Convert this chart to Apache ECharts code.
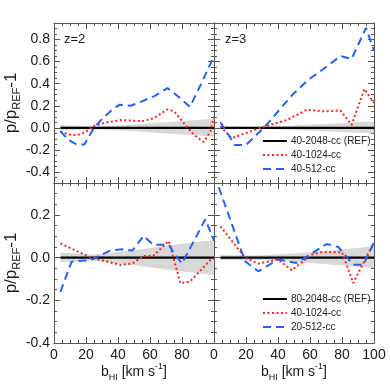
<!DOCTYPE html>
<html>
<head>
<meta charset="utf-8">
<script src="https://cdn.jsdelivr.net/npm/echarts@6/dist/echarts.min.js"></script>
<style>html,body{margin:0;padding:0;background:#fff}#c{width:390px;height:390px}</style>
</head>
<body>
<div id="c"></div>
<script>
// ---------------- data ----------------
const panelLabels = ['z=2', 'z=3', '', ''];
const legendTop = ['40-2048-cc (REF)', '40-1024-cc', '40-512-cc'];
const legendBottom = ['80-2048-cc (REF)', '40-1024-cc', '20-512-cc'];

const xMajor = [0, 20, 40, 60, 80, 100];
const xLabelsLeft = [0, 20, 40, 60, 80];
const xLabelsRight = [0, 20, 40, 60, 80, 100];
const yMajorTop = [-0.4, -0.2, 0.0, 0.2, 0.4, 0.6, 0.8];
const yMajorBottom = [-0.4, -0.2, 0.0, 0.2];

const refX = [4, 100];
const refY = [0, 0];

// z=2, top row
const z2Red = [[4,-0.035],[11,-0.066],[16,-0.06],[20,-0.036],[25,0.018],[33,0.05],[42,0.07],[55,0.06],[62,0.085],[71,0.167],[75,0.15],[83,0.01],[88,-0.07],[93.5,-0.127],[97.7,-0.036],[100,0.1]];
const z2Blue = [[4,-0.03],[9,-0.11],[14,-0.15],[19,-0.15],[25,0.0],[30,0.08],[36,0.16],[41,0.21],[48,0.20],[55,0.24],[63,0.29],[71,0.36],[78,0.28],[85,0.19],[92,0.40],[100,0.65]];
// z=3, top row
const z3Red = [[4,0.013],[11,-0.095],[29,0.0],[46,0.073],[58,0.164],[69,0.149],[79,0.158],[86,0.027],[94,0.352],[100,0.225]];
const z3Blue = [[4,0.05],[13,-0.155],[20,-0.155],[32,0.013],[49,0.30],[59,0.436],[69,0.54],[79,0.65],[86,0.625],[95,0.906],[100,0.70]];
// z=2, bottom row
const z2bRed = [[4,0.067],[23,0.0],[31,-0.014],[41.5,-0.034],[49,-0.027],[56,0.008],[62,0.008],[71.7,0.078],[79,-0.12],[85,-0.112],[97.7,-0.011],[100,-0.005]];
const z2bBlue = [[4,-0.16],[11,-0.019],[23,-0.011],[35,0.033],[42.5,0.039],[49,0.033],[56,0.102],[62,0.06],[72,0.06],[75,0.02],[80,-0.027],[94.6,0.18],[100,0.08]];
// z=3, bottom row
const z3bRed = [[4,0.147],[19.4,0.0],[27.7,-0.028],[40,-0.009],[48.6,-0.059],[61,0.014],[67,0.025],[80,0.025],[87,-0.119],[96.5,0.022],[100,0.069]];
const z3bBlue = [[3,0.33],[19.4,-0.017],[27.7,-0.064],[40,-0.009],[51.7,-0.025],[70.4,0.064],[77.7,0.05],[87,-0.033],[93.4,-0.033],[100,0.072]];

// shaded scatter bands
const bandX = [4, 25, 50, 75, 100];
const bandHiTL = [0.025, 0.012, 0.03, 0.055, 0.082];
const bandLoTL = [-0.025, -0.012, -0.03, -0.055, -0.078];
const bandHiTR = [0.012, 0.008, 0.02, 0.04, 0.06];
const bandLoTR = [-0.012, -0.008, -0.02, -0.035, -0.05];
const bandHiBL = [0.024, 0.015, 0.035, 0.06, 0.083];
const bandLoBL = [-0.022, -0.015, -0.035, -0.06, -0.081];
const bandHiBR = [0.012, 0.01, 0.02, 0.035, 0.053];
const bandLoBR = [-0.012, -0.01, -0.02, -0.033, -0.048];

// ---------------- layout / style ----------------
const FONT = '"Liberation Sans", Arial, Helvetica, sans-serif';
const AX = '#555';
const BLUE = '#1e62ff';
const RED = '#ff2222';
const grids = [
  {left: 54, top: 23, width: 160, height: 160},
  {left: 214, top: 23, width: 160, height: 160},
  {left: 54, top: 183, width: 160, height: 160},
  {left: 214, top: 183, width: 160, height: 160}
];
const panels = [
  {red: z2Red, blue: z2Blue, hi: bandHiTL, lo: bandLoTL, yMin: -0.5, yMax: 0.95, yMajor: yMajorTop},
  {red: z3Red, blue: z3Blue, hi: bandHiTR, lo: bandLoTR, yMin: -0.5, yMax: 0.95, yMajor: yMajorTop},
  {red: z2bRed, blue: z2bBlue, hi: bandHiBL, lo: bandLoBL, yMin: -0.4, yMax: 0.35, yMajor: yMajorBottom},
  {red: z3bRed, blue: z3bBlue, hi: bandHiBR, lo: bandLoBR, yMin: -0.4, yMax: 0.35, yMajor: yMajorBottom}
];

const yNameRich = {
  m: {fontSize: 17, lineHeight: 22, fontFamily: FONT, color: '#1a1a1a'},
  s: {fontSize: 11, lineHeight: 12, verticalAlign: 'bottom', fontFamily: FONT, color: '#1a1a1a'}
};

const xAxes = [], yAxes = [], series = [];
panels.forEach((p, g) => {
  const isBottom = g >= 2, isLeft = g % 2 === 0;
  const tickStyle = {color: AX, width: 1};
  ['bottom', 'top'].forEach((pos, k) => {
    xAxes.push({
      gridIndex: g, type: 'value', min: 0, max: 100, position: pos,
      axisLine: {show: true, onZero: false, lineStyle: {color: AX, width: 1}},
      axisTick: {show: true, inside: true, length: 6, customValues: xMajor, lineStyle: tickStyle},
      axisLabel: {show: isBottom && k === 0, customValues: isLeft ? xLabelsLeft : xLabelsRight,
        margin: 5, fontSize: 14, color: '#1a1a1a', fontFamily: FONT},
      splitLine: {show: false}
    });
    xAxes.push({
      gridIndex: g, type: 'value', min: 0, max: 100, interval: 5, position: pos,
      axisLine: {show: false, onZero: false},
      axisTick: {show: true, inside: true, length: 3, lineStyle: tickStyle},
      axisLabel: {show: false}, splitLine: {show: false}
    });
  });
  ['left', 'right'].forEach((pos, k) => {
    const withName = isLeft && k === 0;
    yAxes.push({
      gridIndex: g, type: 'value', min: p.yMin, max: p.yMax, position: pos,
      name: withName ? '{m|p/p}{s|REF}{m|-1}' : '',
      nameLocation: 'middle', nameRotate: 90, nameGap: 31,
      nameTextStyle: {rich: yNameRich},
      axisLine: {show: true, onZero: false, lineStyle: {color: AX, width: 1}},
      axisTick: {show: true, inside: true, length: 6, customValues: p.yMajor, lineStyle: tickStyle},
      axisLabel: {show: withName, customValues: p.yMajor, margin: 4, fontSize: 14,
        color: '#1a1a1a', fontFamily: FONT, formatter: v => v.toFixed(1)},
      splitLine: {show: false}
    });
    yAxes.push({
      gridIndex: g, type: 'value', min: p.yMin, max: p.yMax, interval: 0.05, position: pos,
      axisLine: {show: false, onZero: false},
      axisTick: {show: true, inside: true, length: 3, lineStyle: tickStyle},
      axisLabel: {show: false}, splitLine: {show: false}
    });
  });
  const xi = g * 4, yi = g * 4;
  series.push({
    type: 'custom', xAxisIndex: xi, yAxisIndex: yi, silent: true, z: 1,
    data: bandX.map((x, i) => [x, p.lo[i], p.hi[i]]),
    encode: {x: 0, y: [1, 2]},
    renderItem: (params, api) => {
      if (params.dataIndex !== 0) return null;
      const pts = [];
      for (let i = 0; i < bandX.length; i++) pts.push(api.coord([bandX[i], p.hi[i]]));
      for (let i = bandX.length - 1; i >= 0; i--) pts.push(api.coord([bandX[i], p.lo[i]]));
      return {type: 'polygon', shape: {points: pts}, style: {fill: '#d8d8d8'}};
    }
  });
  series.push({
    type: 'line', xAxisIndex: xi, yAxisIndex: yi, showSymbol: false, silent: true,
    data: refX.map((x, i) => [x, refY[i]]), lineStyle: {color: '#000', width: 2.2}, z: 3
  });
  series.push({
    type: 'line', xAxisIndex: xi, yAxisIndex: yi, showSymbol: false, silent: true,
    data: p.red, lineStyle: {color: RED, width: 2, type: [2, 2.5]}, z: 4
  });
  series.push({
    type: 'line', xAxisIndex: xi, yAxisIndex: yi, showSymbol: false, silent: true,
    data: p.blue, lineStyle: {color: BLUE, width: 2, type: [8, 5]}, z: 5
  });
});

// ---------------- text / legend graphics ----------------
const graphics = [];
const legendRow = (x, y, stroke, dash, label) => {
  graphics.push({type: 'line', shape: {x1: x, y1: y, x2: x + 24, y2: y},
    style: {stroke: stroke, lineWidth: 2, lineDash: dash}, z: 10});
  graphics.push({type: 'text', x: x + 28, y: y, z: 10,
    style: {text: label, fontSize: 10, fontFamily: FONT, fill: '#222', textVerticalAlign: 'middle'}});
};
[[141, legendTop], [299, legendBottom]].forEach(([y0, labels]) => {
  legendRow(263, y0, '#000', null, labels[0]);
  legendRow(263, y0 + 14, RED, [2, 2.5], labels[1]);
  legendRow(263, y0 + 28, BLUE, [8, 5], labels[2]);
});
graphics.push({type: 'text', x: 64, y: 39, style: {text: panelLabels[0], fontSize: 13, fontFamily: FONT, fill: '#1a1a1a', textVerticalAlign: 'middle'}});
graphics.push({type: 'text', x: 225, y: 39, style: {text: panelLabels[1], fontSize: 13, fontFamily: FONT, fill: '#1a1a1a', textVerticalAlign: 'middle'}});

const xName = {
  m: {fontSize: 14, lineHeight: 20, fontFamily: FONT, fill: '#1a1a1a'},
  s: {fontSize: 9, lineHeight: 10, verticalAlign: 'bottom', fontFamily: FONT, fill: '#1a1a1a'},
  u: {fontSize: 9, lineHeight: 10, verticalAlign: 'top', fontFamily: FONT, fill: '#1a1a1a'}
};
[134, 294].forEach(cx => {
  graphics.push({type: 'text', x: cx, y: 372,
    style: {text: '{m|b}{s|HI}{m| [km s}{u|-1}{m|]}', rich: xName, align: 'center', verticalAlign: 'middle',
      textAlign: 'center', textVerticalAlign: 'middle'}});
});

const chart = echarts.init(document.getElementById('c'), null, {renderer: 'canvas'});
chart.setOption({
  backgroundColor: '#fff',
  animation: false,
  grid: grids,
  xAxis: xAxes,
  yAxis: yAxes,
  series: series,
  graphic: graphics
});
</script>
</body>
</html>
